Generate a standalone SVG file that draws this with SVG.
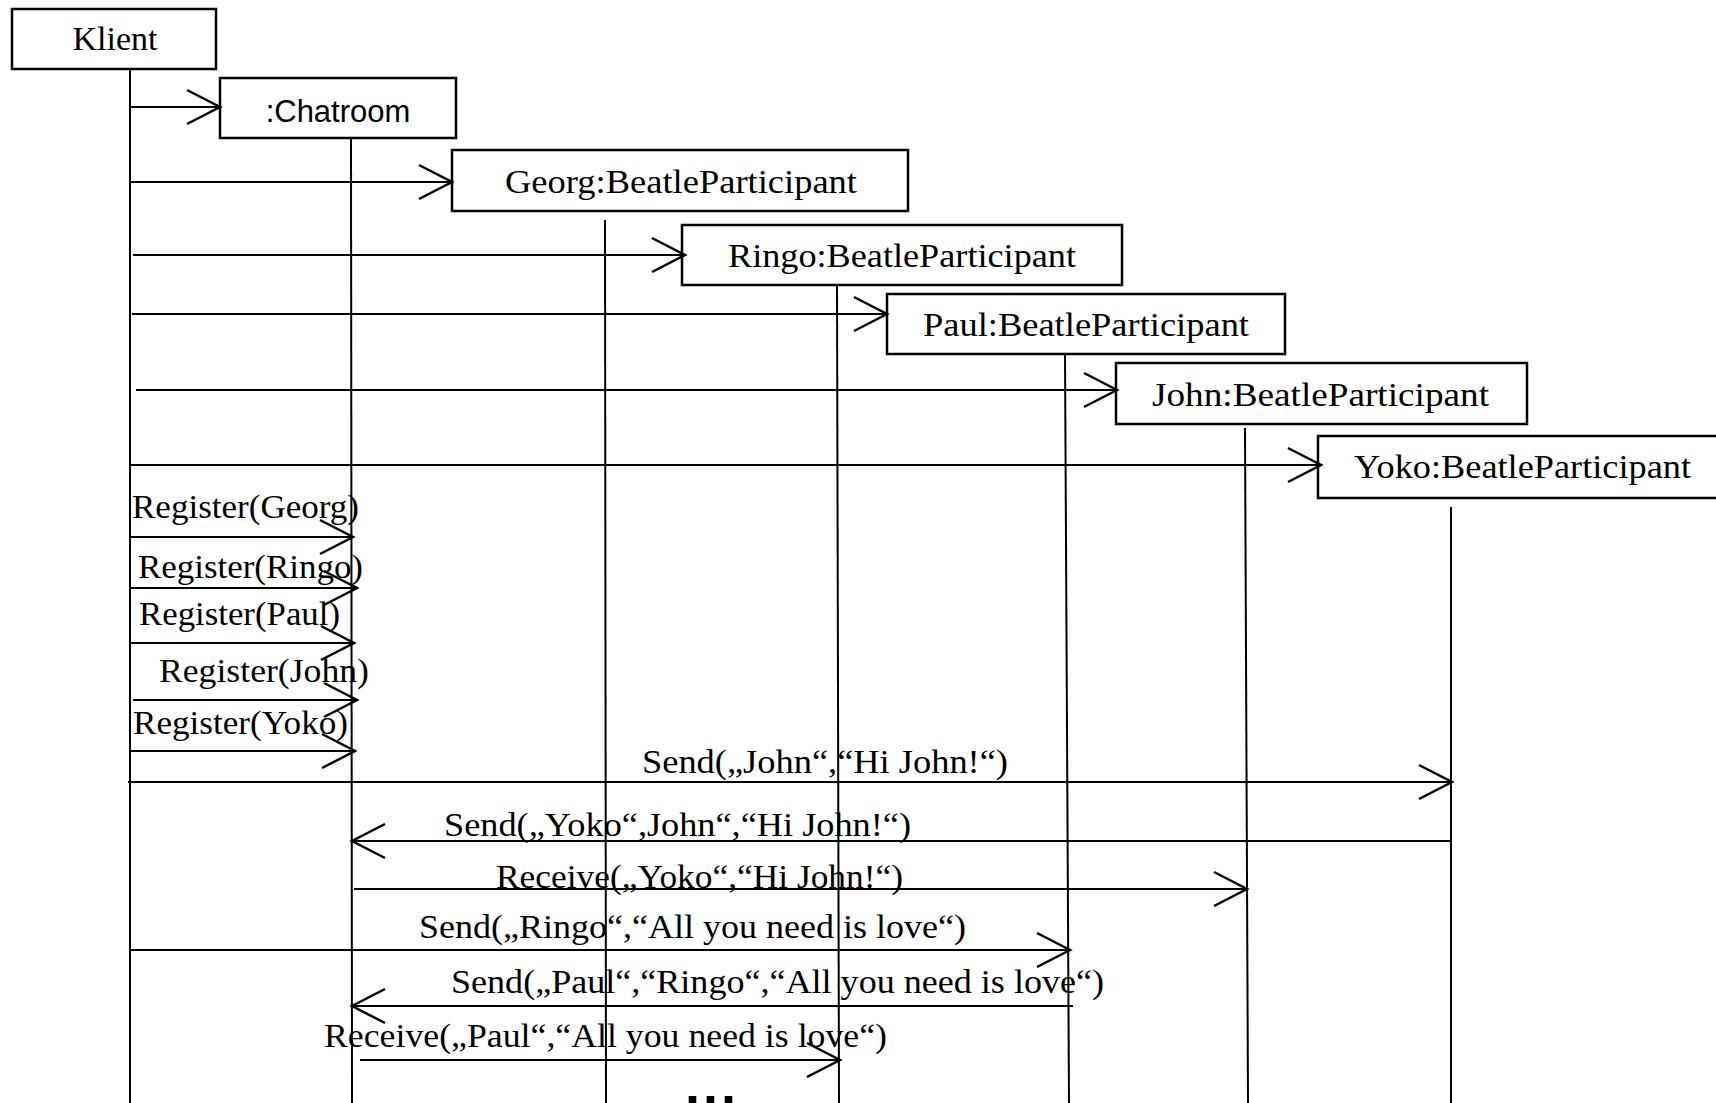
<svg xmlns="http://www.w3.org/2000/svg" width="1716" height="1103" viewBox="0 0 1716 1103">
<style>
.box{fill:#fff;stroke:#000;stroke-width:2.5}
.life{stroke:#000;stroke-width:2;fill:none}
.msg{stroke:#000;stroke-width:2;fill:none;marker-end:url(#open)}
.t{font-family:"Liberation Serif","Times New Roman",serif;font-size:34px;fill:#000}
.s{font-family:"Liberation Sans",Arial,sans-serif;font-size:31px;fill:#000}
.dots{font-family:"Liberation Sans",Arial,sans-serif;font-size:54px;font-weight:bold;letter-spacing:3px;fill:#000}
</style>
<defs>
<marker id="open" markerUnits="userSpaceOnUse" markerWidth="40" markerHeight="40" viewBox="-36 -20 40 40" refX="0" refY="0" orient="auto" overflow="visible">
<path d="M-33,-17 L0,0 L-33,17" fill="none" stroke="#000" stroke-width="2.5"/>
</marker>
</defs>
<rect width="1716" height="1103" fill="#fff"/>

<g id="klient">
<rect class="box" x="12" y="9" width="204" height="60"/>
<text class="t" x="115" y="50" text-anchor="middle">Klient</text>
<line class="life" x1="130" y1="69" x2="130" y2="1103"/>
</g>
<g id="chatroom">
<rect class="box" x="220" y="78" width="236" height="60"/>
<text class="s" x="338" y="122" text-anchor="middle">:Chatroom</text>
<line class="life" x1="351" y1="138" x2="352" y2="1103"/>
</g>
<g id="georg">
<rect class="box" x="452" y="150" width="456" height="61"/>
<text class="t" x="505" y="193" textLength="352" lengthAdjust="spacingAndGlyphs">Georg:BeatleParticipant</text>
<line class="life" x1="605" y1="220" x2="606" y2="1103"/>
</g>
<g id="ringo">
<rect class="box" x="682" y="225" width="440" height="60"/>
<text class="t" x="728" y="267" textLength="348" lengthAdjust="spacingAndGlyphs">Ringo:BeatleParticipant</text>
<line class="life" x1="837" y1="285" x2="839" y2="1103"/>
</g>
<g id="paul">
<rect class="box" x="887" y="294" width="398" height="60"/>
<text class="t" x="923" y="336" textLength="326" lengthAdjust="spacingAndGlyphs">Paul:BeatleParticipant</text>
<line class="life" x1="1065" y1="354" x2="1069" y2="1103"/>
</g>
<g id="john">
<rect class="box" x="1116" y="363" width="411" height="61"/>
<text class="t" x="1152" y="406" textLength="337" lengthAdjust="spacingAndGlyphs">John:BeatleParticipant</text>
<line class="life" x1="1245" y1="428" x2="1248" y2="1103"/>
</g>
<g id="yoko">
<rect class="box" x="1318" y="436" width="410" height="62"/>
<text class="t" x="1354" y="478" textLength="337" lengthAdjust="spacingAndGlyphs">Yoko:BeatleParticipant</text>
<line class="life" x1="1451" y1="507" x2="1451" y2="1103"/>
</g>

<g id="connectors">
<line class="msg" x1="130" y1="107" x2="220" y2="107"/>
<line class="msg" x1="130" y1="182" x2="452" y2="182"/>
<line class="msg" x1="133" y1="255" x2="685" y2="255"/>
<line class="msg" x1="132" y1="314" x2="887" y2="314"/>
<line class="msg" x1="136" y1="390" x2="1117" y2="390"/>
<line class="msg" x1="130" y1="465" x2="1321" y2="465"/>

<line class="msg" x1="131" y1="537" x2="353" y2="537"/>
<text class="t" x="132" y="518" textLength="227" lengthAdjust="spacingAndGlyphs">Register(Georg)</text>
<line class="msg" x1="131" y1="588" x2="357" y2="588"/>
<text class="t" x="138" y="578" textLength="225" lengthAdjust="spacingAndGlyphs">Register(Ringo)</text>
<line class="msg" x1="131" y1="643" x2="354" y2="643"/>
<text class="t" x="139" y="625" textLength="201" lengthAdjust="spacingAndGlyphs">Register(Paul)</text>
<line class="msg" x1="133" y1="700" x2="357" y2="700"/>
<text class="t" x="159" y="682" textLength="210" lengthAdjust="spacingAndGlyphs">Register(John)</text>
<line class="msg" x1="131" y1="751" x2="355" y2="751"/>
<text class="t" x="133" y="734" textLength="215" lengthAdjust="spacingAndGlyphs">Register(Yoko)</text>

<line class="msg" x1="128" y1="782" x2="1452" y2="782"/>
<text class="t" x="642" y="773" textLength="366" lengthAdjust="spacingAndGlyphs">Send(„John“,“Hi John!“)</text>
<line class="msg" x1="1451" y1="841" x2="352" y2="841"/>
<text class="t" x="444" y="836" textLength="467" lengthAdjust="spacingAndGlyphs">Send(„Yoko“,John“,“Hi John!“)</text>
<line class="msg" x1="354" y1="889" x2="1247" y2="889"/>
<text class="t" x="496" y="888" textLength="407" lengthAdjust="spacingAndGlyphs">Receive(„Yoko“,“Hi John!“)</text>
<line class="msg" x1="130" y1="950" x2="1070" y2="950"/>
<text class="t" x="419" y="938" textLength="547" lengthAdjust="spacingAndGlyphs">Send(„Ringo“,“All you need is love“)</text>
<line class="msg" x1="1073" y1="1006" x2="352" y2="1006"/>
<text class="t" x="451" y="993" textLength="653" lengthAdjust="spacingAndGlyphs">Send(„Paul“,“Ringo“,“All you need is love“)</text>
<line class="msg" x1="360" y1="1060" x2="840" y2="1060"/>
<text class="t" x="324" y="1047" textLength="563" lengthAdjust="spacingAndGlyphs">Receive(„Paul“,“All you need is love“)</text>
</g>
<text class="dots" x="685" y="1104">...</text>
</svg>
